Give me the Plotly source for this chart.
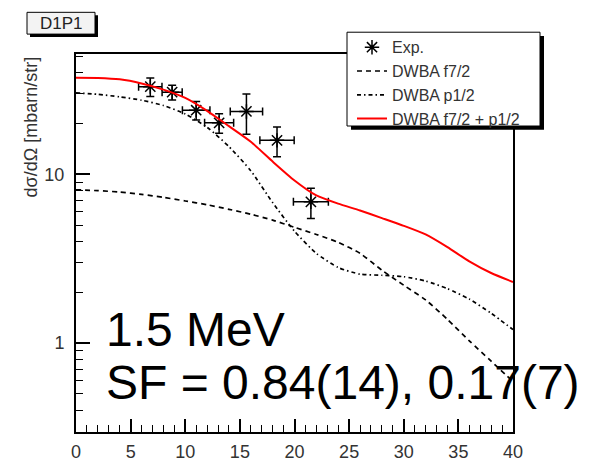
import plotly.graph_objects as go

# Measured angular distribution
theta_exp = [6.8, 8.8, 11.0, 13.1, 15.6, 18.4, 21.5]
theta_err = [1.07, 0.92, 1.26, 1.33, 1.48, 1.57, 1.6]
xs_exp = [33.1, 30.7, 24.0, 20.2, 23.6, 15.9, 6.87]
xs_err = [4.2, 3.1, 3.0, 2.7, 6.3, 3.2, 1.4]

# DWBA calculations
theta_calc = [0, 2, 4, 6, 8, 10, 12, 14, 16, 18, 20, 22, 24, 26, 28, 30, 32, 34, 36, 38, 40]
dwba_f72 = [8.1, 8.0, 7.85, 7.6, 7.3, 6.95, 6.6, 6.2, 5.8, 5.35, 4.85, 4.4, 3.95, 3.4,
            2.7, 2.2, 1.8, 1.38, 1.03, 0.78, 0.59]
dwba_p12 = [30.4, 29.8, 28.8, 27.5, 25.6, 22.8, 19.0, 14.6, 10.5, 6.8, 4.6, 3.4, 2.8, 2.56,
            2.52, 2.47, 2.33, 2.1, 1.82, 1.5, 1.2]
dwba_sum = [37.4, 37.3, 36.6, 34.6, 31.8, 28.4, 23.8, 19.3, 15.6, 11.9, 9.2, 7.5, 6.7, 6.1,
            5.5, 4.95, 4.4, 3.7, 3.05, 2.6, 2.3]

x_major = [0, 5, 10, 15, 20, 25, 30, 35, 40]
y_major = [1, 10]
y_labels = ["1", "10"]
y_minor = [0.3, 0.4, 0.5, 0.6, 0.7, 0.8, 0.9, 2, 3, 4, 5, 6, 7, 8, 9, 20, 30, 40, 50]

W, H = 598, 474
L, R, T, B = 76, 85, 54, 21
PW, PH = W - L - R, H - T - B
FONT = "Liberation Sans, Arial, Helvetica, sans-serif"


def px(x):
    return (x - L) / PW


def py(y):
    return (H - B - y) / PH


fig = go.Figure()

fig.add_trace(go.Scatter(
    x=theta_exp, y=xs_exp, mode="markers", name="Exp.",
    marker=dict(symbol="asterisk-open", size=12, color="black",
                line=dict(color="black", width=1.5)),
    error_x=dict(type="data", array=theta_err, color="black", thickness=1.5, width=4),
    error_y=dict(type="data", array=xs_err, color="black", thickness=1.5, width=4),
))
fig.add_trace(go.Scatter(
    x=theta_calc, y=dwba_f72, mode="lines", name="DWBA f7/2",
    line=dict(color="black", width=1.7, dash="5px,4px", shape="spline", smoothing=0.6),
))
fig.add_trace(go.Scatter(
    x=theta_calc, y=dwba_p12, mode="lines", name="DWBA p1/2",
    line=dict(color="black", width=1.7, dash="4px,3px,1.5px,3px", shape="spline", smoothing=0.6),
))
fig.add_trace(go.Scatter(
    x=theta_calc, y=dwba_sum, mode="lines", name="DWBA f7/2 + p1/2",
    line=dict(color="#ff0000", width=2, shape="spline", smoothing=0.6),
))

shapes = [
    # legend box with shadow
    dict(type="rect", xref="paper", yref="paper", x0=px(351), x1=px(544), y0=py(134), y1=py(35),
         fillcolor="black", line=dict(width=0), layer="above"),
    dict(type="rect", xref="paper", yref="paper", x0=px(347), x1=px(540), y0=py(130), y1=py(31),
         fillcolor="white", line=dict(color="black", width=1), layer="above"),
    # pad label box with shadow
    dict(type="rect", xref="paper", yref="paper", x0=px(30), x1=px(98), y0=py(36), y1=py(13),
         fillcolor="black", line=dict(width=0), layer="above"),
    dict(type="rect", xref="paper", yref="paper", x0=px(27), x1=px(95), y0=py(33), y1=py(10),
         fillcolor="#f3f3f3", line=dict(color="black", width=1), layer="above"),
]

annotations = [
    dict(text="D1P1", xref="paper", yref="paper", x=px(61), y=py(21.5), xanchor="center",
         yanchor="middle", showarrow=False, font=dict(family=FONT, size=17, color="#222")),
    dict(text="dσ/dΩ [mbarn/str]", xref="paper", yref="paper", x=px(31), y=py(55),
         xanchor="center", yanchor="top", textangle=-90, showarrow=False,
         font=dict(family=FONT, size=18, color="#333")),
    dict(text="1.5 MeV", xref="paper", yref="paper", x=px(104), y=py(345), xanchor="left",
         yanchor="middle", showarrow=False, font=dict(family=FONT, size=48, color="black")),
    dict(text="SF = 0.84(14), 0.17(7)", xref="paper", yref="paper", x=px(104), y=py(401),
         xanchor="left", yanchor="middle", showarrow=False,
         font=dict(family=FONT, size=48, color="black")),
]

fig.update_layout(
    width=W, height=H,
    margin=dict(l=L, r=R, t=T, b=B, pad=0),
    paper_bgcolor="white", plot_bgcolor="white",
    font=dict(family=FONT, color="#333"),
    shapes=shapes, annotations=annotations,
    showlegend=True,
    legend=dict(x=px(352), y=py(29), xanchor="left", yanchor="top",
                bgcolor="rgba(0,0,0,0)", borderwidth=0,
                font=dict(family=FONT, size=16, color="#333"),
                tracegroupgap=0, itemwidth=30),
)

fig.update_xaxes(
    range=[0, 40], showgrid=False, zeroline=False,
    showline=True, linecolor="black", linewidth=2, mirror=True,
    tickmode="array", tickvals=x_major, ticks="inside", ticklen=13, tickwidth=1.5,
    tickcolor="black", tickfont=dict(family=FONT, size=18, color="#333"),
    ticklabelstandoff=2,
    minor=dict(dtick=1, ticks="inside", ticklen=7, tickwidth=1.3, tickcolor="black"),
)
fig.update_yaxes(
    type="log", range=[-0.528, 1.7135], showgrid=False, zeroline=False,
    showline=True, linecolor="black", linewidth=2, mirror=True,
    tickmode="array", tickvals=y_major, ticktext=y_labels,
    ticks="inside", ticklen=14, tickwidth=1.5, tickcolor="black",
    tickfont=dict(family=FONT, size=18, color="#333"), ticklabelstandoff=6,
    minor=dict(tickmode="array", tickvals=y_minor, ticks="inside", ticklen=7,
               tickwidth=1.3, tickcolor="black"),
)

fig.write_html("out.html")
